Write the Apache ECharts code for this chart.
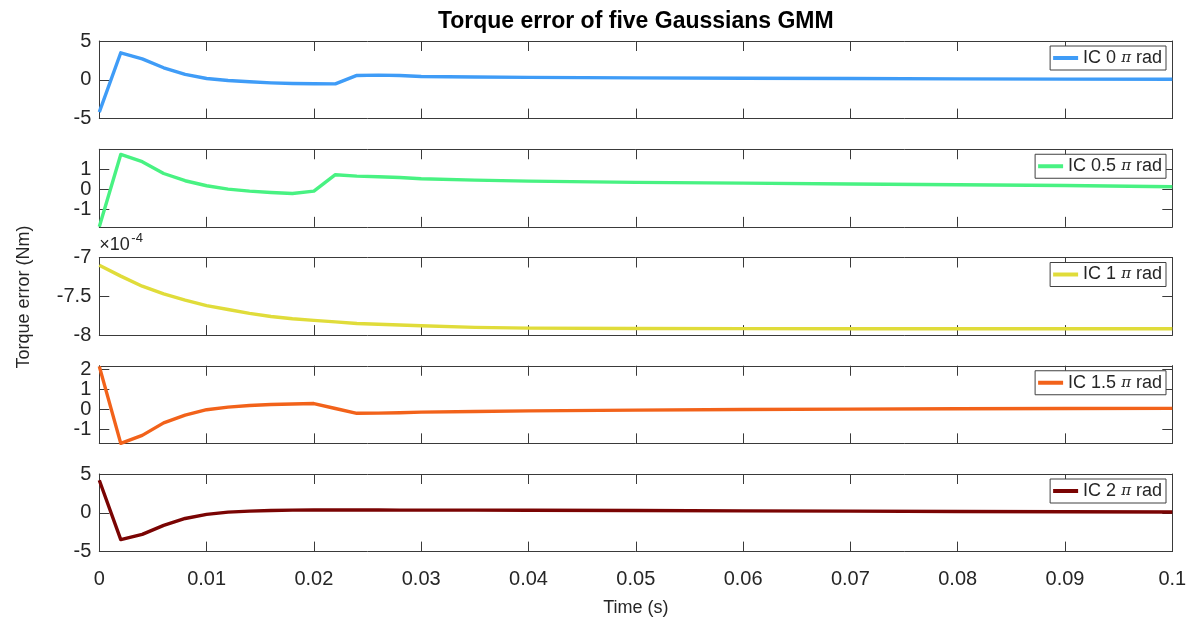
<!DOCTYPE html>
<html>
<head>
<meta charset="utf-8">
<script src="https://cdn.jsdelivr.net/npm/echarts@6/dist/echarts.min.js"></script>
<style>
  html, body { margin: 0; padding: 0; background: #fff; }
  #chart { width: 1193px; height: 621px; }
</style>
</head>
<body>
<div id="chart"></div>
<script>
// Sample times (s)
const timeS = [0, 0.002, 0.004, 0.006, 0.008, 0.010, 0.012, 0.014, 0.016, 0.018,
  0.020, 0.022, 0.024, 0.026, 0.028, 0.030, 0.035, 0.040, 0.050, 0.060,
  0.070, 0.080, 0.090, 0.100];

// Torque error (Nm) for each initial condition
const ic0 = [-4.16, 3.48, 2.70, 1.55, 0.69, 0.17, -0.09, -0.26, -0.39, -0.47,
  -0.50, -0.52, 0.56, 0.60, 0.56, 0.43, 0.36, 0.31, 0.25, 0.20,
  0.16, 0.12, 0.09, 0.07];
const ic05 = [-1.88, 1.73, 1.37, 0.78, 0.42, 0.17, 0.00, -0.10, -0.17, -0.22,
  -0.10, 0.72, 0.65, 0.62, 0.58, 0.52, 0.45, 0.40, 0.34, 0.30,
  0.26, 0.22, 0.18, 0.12];
const ic1 = [-7.10e-4, -7.24e-4, -7.37e-4, -7.47e-4, -7.55e-4, -7.62e-4, -7.67e-4, -7.72e-4, -7.76e-4, -7.79e-4,
  -7.81e-4, -7.83e-4, -7.85e-4, -7.86e-4, -7.87e-4, -7.88e-4, -7.90e-4, -7.91e-4, -7.915e-4, -7.917e-4,
  -7.918e-4, -7.918e-4, -7.918e-4, -7.918e-4];
const ic15 = [2.15, -1.72, -1.32, -0.69, -0.30, -0.03, 0.10, 0.18, 0.23, 0.26,
  0.28, 0.03, -0.21, -0.20, -0.18, -0.15, -0.12, -0.09, -0.05, -0.02,
  0.00, 0.02, 0.03, 0.04];
const ic2 = [4.19, -3.46, -2.78, -1.62, -0.73, -0.21, 0.09, 0.21, 0.30, 0.34,
  0.36, 0.36, 0.36, 0.36, 0.35, 0.35, 0.34, 0.32, 0.29, 0.25,
  0.21, 0.17, 0.13, 0.10];

// Series names and axis ticks
const seriesNames = ['IC 0 π rad', 'IC 0.5 π rad', 'IC 1 π rad', 'IC 1.5 π rad', 'IC 2 π rad'];
const xTicks = [0, 0.01, 0.02, 0.03, 0.04, 0.05, 0.06, 0.07, 0.08, 0.09, 0.1];
const yTicks0 = [-5, 0, 5];
const yTicks05 = [-1, 0, 1];
const yTicks1 = [-8e-4, -7.5e-4, -7e-4];
const yTicks15 = [-1, 0, 1, 2];
const yTicks2 = [-5, 0, 5];

const panels = [
  { data: ic0,  ticks: yTicks0,  min: -5,    max: 5,     scale: 1,    color: '#3f9cf7' },
  { data: ic05, ticks: yTicks05, min: -1.88, max: 1.99,  scale: 1,    color: '#48f282' },
  { data: ic1,  ticks: yTicks1,  min: -8e-4, max: -7e-4, scale: 1e-4, color: '#e0dc3a' },
  { data: ic15, ticks: yTicks15, min: -1.72, max: 2.18,  scale: 1,    color: '#f2621a' },
  { data: ic2,  ticks: yTicks2,  min: -5,    max: 5,     scale: 1,    color: '#7a0403' }
];

const FONT = 'Liberation Sans, Arial, Helvetica, sans-serif';
const INK = '#262626';
const FRAME = '#3a3a3a';
const plotLeft = 99.3, plotRight = 1172.3;
const panelTop0 = 41, panelStep = 108.25, panelH = 77.6;

const grids = [], xAxes = [], yAxes = [], series = [], legends = [];

panels.forEach((p, i) => {
  const top = panelTop0 + i * panelStep;
  const last = i === panels.length - 1;
  grids.push({ left: plotLeft, width: plotRight - plotLeft, top: top, height: panelH });

  const xCommon = {
    type: 'value', gridIndex: i, min: 0, max: 0.1,
    axisLine: { show: true, onZero: false, lineStyle: { color: FRAME, width: 1 } },
    axisTick: { show: true, inside: true, length: 10, customValues: xTicks, lineStyle: { color: FRAME } },
    splitLine: { show: false }
  };
  xAxes.push(Object.assign({}, xCommon, {
    position: 'bottom',
    axisLabel: {
      show: last, customValues: xTicks, margin: 18, color: INK, fontSize: 20, fontFamily: FONT,
      formatter: v => String(+v.toFixed(2))
    },
    name: last ? 'Time (s)' : '', nameLocation: 'middle', nameGap: 47,
    nameTextStyle: { color: INK, fontSize: 18, fontFamily: FONT }
  }));
  xAxes.push(Object.assign({}, xCommon, { position: 'top', axisLabel: { show: false } }));

  const yCommon = {
    type: 'value', gridIndex: i, min: p.min, max: p.max,
    axisLine: { show: true, onZero: false, lineStyle: { color: FRAME, width: 1 } },
    axisTick: { show: true, inside: true, length: 10, customValues: p.ticks, lineStyle: { color: FRAME } },
    splitLine: { show: false }
  };
  yAxes.push(Object.assign({}, yCommon, {
    position: 'left',
    axisLabel: {
      show: true, customValues: p.ticks, margin: 8, color: INK, fontSize: 20, fontFamily: FONT,
      formatter: v => String(+(v / p.scale).toFixed(1))
    }
  }));
  yAxes.push(Object.assign({}, yCommon, { position: 'right', axisLabel: { show: false } }));

  series.push({
    type: 'line', name: seriesNames[i],
    xAxisIndex: 2 * i, yAxisIndex: 2 * i,
    data: timeS.map((t, k) => [t, p.data[k]]),
    showSymbol: false, symbol: 'none', color: p.color,
    lineStyle: { width: 3.4, color: p.color, join: 'round' },
    clip: true, animation: false
  });

  legends.push({
    data: [seriesNames[i]],
    right: 1193 - 1166, top: top + 5,
    orient: 'horizontal',
    icon: 'rect', itemWidth: 25, itemHeight: 4,
    padding: [3, 4, 3, 3],
    backgroundColor: '#ffffff', borderColor: '#404040', borderWidth: 1, borderRadius: 0,
    selectedMode: false,
    formatter: n => n.replace('π', '{pi|π}'),
    textStyle: {
      color: INK, fontSize: 18, fontFamily: FONT,
      rich: { pi: { fontSize: 15, fontStyle: 'italic', fontFamily: 'DejaVu Serif, serif', color: INK } }
    }
  });
});

const chart = echarts.init(document.getElementById('chart'), null, { renderer: 'canvas' });
chart.setOption({
  backgroundColor: '#ffffff',
  animation: false,
  grid: grids,
  xAxis: xAxes,
  yAxis: yAxes,
  series: series,
  legend: legends,
  graphic: [
    {
      type: 'text', x: (plotLeft + plotRight) / 2, y: 22,
      style: { text: 'Torque error of five Gaussians GMM', fill: '#000', font: 'bold 23px ' + FONT,
        textAlign: 'center', textVerticalAlign: 'middle' }
    },
    {
      type: 'text', x: 24, y: 297, rotation: Math.PI / 2,
      style: { text: 'Torque error (Nm)', fill: INK, font: '18px ' + FONT,
        textAlign: 'center', textVerticalAlign: 'middle' }
    },
    {
      type: 'text', x: plotLeft, y: panelTop0 + 2 * panelStep - 12,
      style: { text: '×10', fill: INK, font: '18px ' + FONT, textAlign: 'left', textVerticalAlign: 'middle' }
    },
    {
      type: 'text', x: plotLeft + 32, y: panelTop0 + 2 * panelStep - 19,
      style: { text: '-4', fill: INK, font: '13px ' + FONT, textAlign: 'left', textVerticalAlign: 'middle' }
    }
  ]
});
</script>
</body>
</html>
